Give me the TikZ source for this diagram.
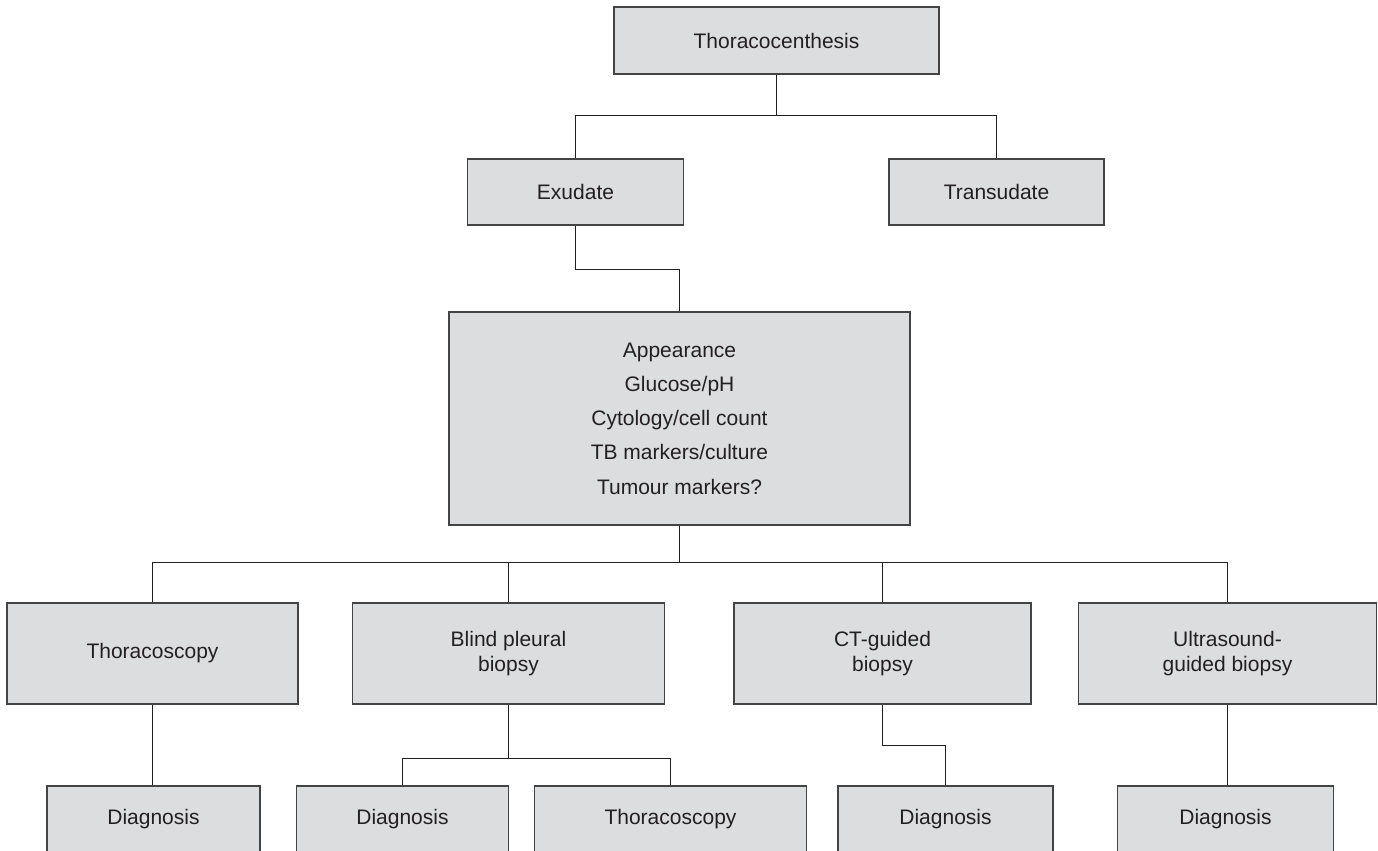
\documentclass[tikz,border=0pt]{standalone}
\usepackage{xcolor}
\usepackage{tikz}
\usepackage{fontspec}
\setmainfont{Liberation Sans}
\definecolor{boxgray}{RGB}{220, 221, 223}
\definecolor{edgegray}{RGB}{68, 68, 68}
\definecolor{inkgray}{RGB}{35, 31, 32}
\usetikzlibrary{positioning, calc}

\begin{document}
\begin{tikzpicture}[
    x=0.5pt, y=-0.5pt,
    stage/.style={rectangle, draw=edgegray, fill=boxgray, line width=0.8pt,
                  inner sep=0pt, align=center, text=inkgray,
                  font=\fontsize{10.5}{12.6}\selectfont},
    link/.style={draw=inkgray, line width=0.55pt}
]
    \useasboundingbox (0,0) rectangle (1378,851);

    % Top levels
    \node[stage, minimum width=162.5pt, minimum height=33.5pt] (tap) at (776.5,40.5) {Thoracocenthesis};
    \node[stage, minimum width=108pt, minimum height=33pt] (exud) at (575.5,192) {Exudate};
    \node[stage, minimum width=107.5pt, minimum height=33pt] (trans) at (996.5,192) {Transudate};
    \node[stage, minimum width=230.5pt, minimum height=106.5pt] (tests) at (679.5,418.5)
        {Appearance\\[4.5pt] Glucose/pH\\[4.5pt] Cytology/cell count\\[4.5pt] TB markers/culture\\[4.5pt] Tumour markers?};

    % Biopsy options
    \node[stage, minimum width=145.5pt, minimum height=50.5pt] (scope) at (152.5,653.5) {Thoracoscopy};
    \node[stage, minimum width=156pt, minimum height=50.5pt] (blind) at (508.5,653.5) {Blind pleural\\biopsy};
    \node[stage, minimum width=148.5pt, minimum height=50.5pt] (ct) at (882.5,653.5) {CT-guided\\biopsy};
    \node[stage, minimum width=149pt, minimum height=50.5pt] (us) at (1227.5,653.5) {Ultrasound-\\guided biopsy};

    % Outcomes
    \node[stage, minimum width=106.5pt, minimum height=33.5pt] (scope-dx) at (153.5,819.5) {Diagnosis};
    \node[stage, minimum width=106pt, minimum height=33.5pt] (blind-dx) at (402.5,819.5) {Diagnosis};
    \node[stage, minimum width=136pt, minimum height=33.5pt] (blind-scope) at (670.5,819.5) {Thoracoscopy};
    \node[stage, minimum width=107.5pt, minimum height=33.5pt] (ct-dx) at (945.5,819.5) {Diagnosis};
    \node[stage, minimum width=108pt, minimum height=33.5pt] (us-dx) at (1225.5,819.5) {Diagnosis};

    % Branch points
    \coordinate (tap-split) at (776.5,115.5);
    \coordinate (test-split) at (679.5,562.5);
    \coordinate (blind-split) at (508.5,758.5);

    % Connecting lines
    \draw[link] (tap) -- (tap-split);
    \draw[link] (exud.north) |- (tap-split) -| (trans.north);
    \draw[link] (exud.south) -- ++(0,44) -| (tests.north);
    \draw[link] (tests) -- (test-split);
    \draw[link] (scope.north) |- (test-split) -| (us.north);
    \draw[link] (blind.north) -- (blind.north |- test-split);
    \draw[link] (ct.north) -- (ct.north |- test-split);
    \draw[link] (scope.south) -- (scope.south |- scope-dx.north);
    \draw[link] (blind) -- (blind-split);
    \draw[link] (blind-dx.north) |- (blind-split) -| (blind-scope.north);
    \draw[link] (ct.south) -- ++(0,41) -| (ct-dx.north);
    \draw[link] (us.south) -- (us.south |- us-dx.north);
\end{tikzpicture}
\end{document}
